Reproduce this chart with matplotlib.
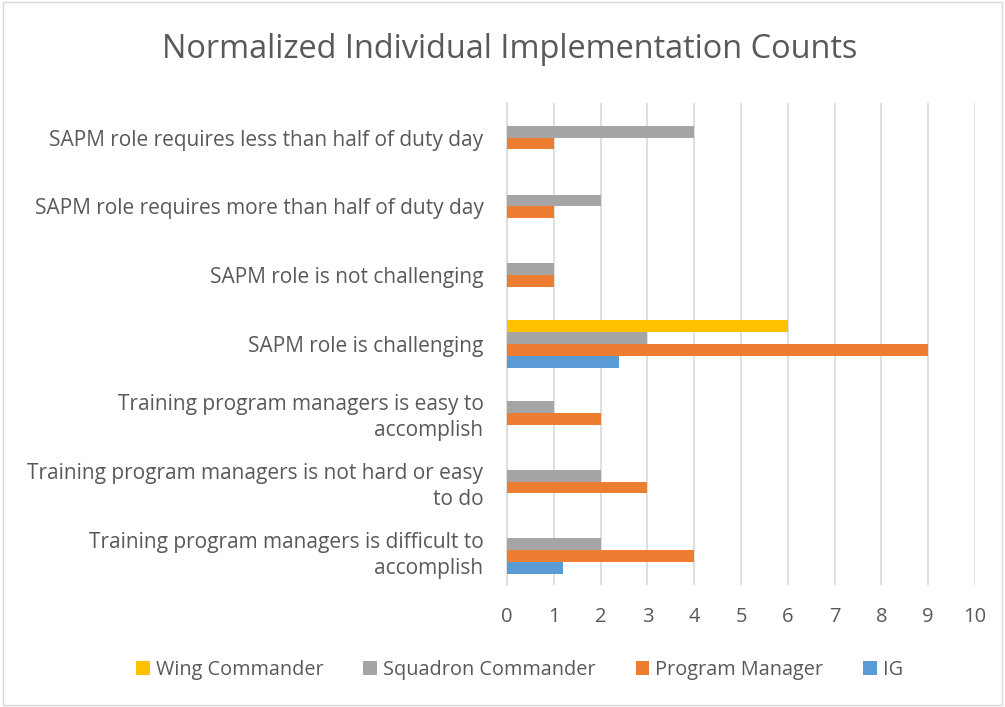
import numpy as np
import matplotlib.pyplot as plt
from matplotlib.patches import Rectangle

categories = ["SAPM role requires less than half of duty day",
              "SAPM role requires more than half of duty day",
              "SAPM role is not challenging",
              "SAPM role is challenging",
              "Training program managers is easy to\naccomplish",
              "Training program managers is not hard or easy\nto do",
              "Training program managers is difficult to\naccomplish"]

series = ["Wing Commander", "Squadron Commander", "Program Manager", "IG"]
wing = [0, 0, 0, 6, 0, 0, 0]
squadron = [4, 2, 1, 3, 1, 2, 2]
program = [1, 1, 1, 9, 2, 3, 4]
ig = [0, 0, 0, 2.4, 0, 0, 1.2]
xticks = list(range(0, 11))

colors = ["#FFC000", "#A5A5A5", "#ED7D31", "#5B9BD5"]
txtc = "#595959"

plt.rcParams['font.family'] = ['Open Sans', 'DejaVu Sans']

fig = plt.figure(figsize=(10.05, 7.07), dpi=100)
ax = fig.add_axes([0.5045, 0.173, 0.4657, 0.681])

y = np.arange(len(categories))
h = 0.172
for k, (name, vals) in enumerate(zip(series, [wing, squadron, program, ig])):
    ax.barh(y + (k - 1.5) * h, vals, height=h, color=colors[k], label=name, zorder=3)

ax.set_xlim(0, 10)
ax.set_ylim(len(categories) - 0.5, -0.5)
ax.set_xticks(xticks)
ax.set_yticks(y)
ax.set_yticklabels(categories, fontsize=15, color=txtc, linespacing=1.3)
ax.tick_params(axis='x', labelsize=14.5, colors=txtc, length=0, pad=16)
ax.tick_params(axis='y', length=0, pad=17)
for lab in ax.get_yticklabels():
    lab.set_horizontalalignment('right')
ax.xaxis.grid(True, color="#D9D9D9", lw=1.2, zorder=0)
for s in ["top", "right", "bottom"]:
    ax.spines[s].set_visible(False)
ax.spines["left"].set_color("#D9D9D9")
ax.spines["left"].set_linewidth(1.2)

fig.text(0.507, 0.93, "Normalized Individual Implementation Counts", ha='center', va='center',
         fontsize=23.4, color=txtc)

fig.legend(loc='center', bbox_to_anchor=(0.517, 0.052), ncol=4, frameon=False,
           fontsize=14.3, labelcolor=txtc, handlelength=0.7, handleheight=0.7,
           handletextpad=0.3, columnspacing=2.0)

fig.patches.append(Rectangle((0.003, 0.003), 0.994, 0.994, transform=fig.transFigure,
                             fill=False, edgecolor="#D9D9D9", lw=1))

fig.savefig("out.png", dpi=100)
